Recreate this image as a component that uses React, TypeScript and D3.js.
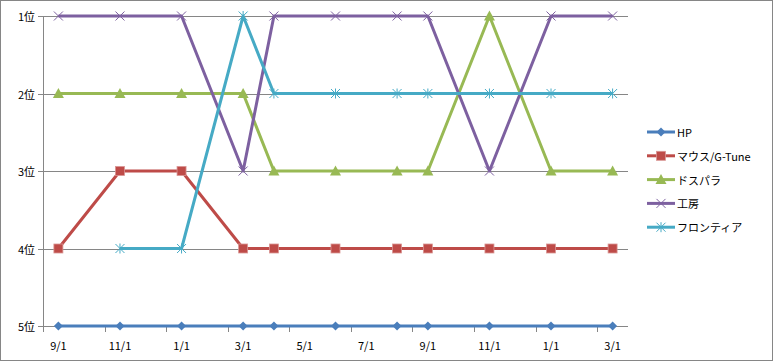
import React from "react";
import * as d3 from "d3";

const months = [
  "2008-09","2008-10","2008-11","2008-12","2009-01","2009-02","2009-03","2009-04","2009-05","2009-06",
  "2009-07","2009-08","2009-09","2009-10","2009-11","2009-12","2010-01","2010-02","2010-03",
];
const tickLabelMonths = ["2008-09","2008-11","2009-01","2009-03","2009-05","2009-07","2009-09","2009-11","2010-01","2010-03"];
const dates = ["2008-09","2008-11","2009-01","2009-03","2009-04","2009-06","2009-08","2009-09","2009-11","2010-01","2010-03"];
const rankTicks = [1, 2, 3, 4, 5];

const hp = [5, 5, 5, 5, 5, 5, 5, 5, 5, 5, 5];
const mouse = [4, 3, 3, 4, 4, 4, 4, 4, 4, 4, 4];
const dospara = [2, 2, 2, 2, 3, 3, 3, 3, 1, 3, 3];
const kobo = [1, 1, 1, 3, 1, 1, 1, 1, 3, 1, 1];
const frontier = [null, 4, 4, 1, 2, 2, 2, 2, 2, 2, 2];

const seriesNames = ["HP", "マウス/G-Tune", "ドスパラ", "工房", "フロンティア"];
const seriesValues = [hp, mouse, dospara, kobo, frontier];
const colors = ["#4A7EBB", "#BE4B48", "#98B954", "#7D60A0", "#46AAC5"];
const markers = ["diamond", "square", "triangle", "x", "star"];

const W = 774, H = 362;
const FONT = "'Noto Sans CJK JP', sans-serif";

function Marker({ type, x, y, color }: { type: string; x: number; y: number; color: string }) {
  if (type === "diamond") {
    const s = 4.5;
    return <path d={`M${x},${y - s}L${x + s},${y}L${x},${y + s}L${x - s},${y}Z`} fill={color} />;
  }
  if (type === "square") {
    const s = 4.5;
    return <rect x={x - s} y={y - s} width={s * 2} height={s * 2} fill={color} stroke="#D99694" strokeWidth={0.8} />;
  }
  if (type === "triangle") {
    const s = 5.5;
    return <path d={`M${x},${y - s}L${x + s},${y + s * 0.8}L${x - s},${y + s * 0.8}Z`} fill={color} />;
  }
  if (type === "x") {
    const s = 4.5;
    return (
      <path d={`M${x - s},${y - s}L${x + s},${y + s}M${x - s},${y + s}L${x + s},${y - s}`} stroke={color} strokeWidth={1} fill="none" />
    );
  }
  const s = 4.5;
  return (
    <path
      d={`M${x - s},${y - s}L${x + s},${y + s}M${x - s},${y + s}L${x + s},${y - s}M${x},${y - s - 0.5}L${x},${y + s + 0.5}`}
      stroke={color}
      strokeWidth={1}
      fill="none"
    />
  );
}

export default function App() {
  const x = d3.scaleBand<string>().domain(months).range([43, 628]).paddingInner(0).paddingOuter(0);
  const bw = x.bandwidth();
  const cx = (m: string) => (x(m) as number) + bw / 2;
  const y = d3.scaleLinear().domain([1, 5]).range([16, 326]);

  const line = d3
    .line<[string, number | null]>()
    .defined((d) => d[1] != null)
    .x((d) => cx(d[0]))
    .y((d) => y(d[1] as number));

  const tickPositions = months.filter((_, i) => i % 2 === 0).map((m) => x(m) as number);

  return (
    <svg width={W} height={H} style={{ position: "absolute", left: 0, top: 0, fontFamily: FONT }}>
      <rect x={0.5} y={0.5} width={W - 2} height={H - 2} fill="#fff" stroke="#868686" strokeWidth={1} />
      {rankTicks.slice(0, 4).map((r) => (
        <line key={r} x1={43} x2={628} y1={Math.round(y(r)) + 0.5} y2={Math.round(y(r)) + 0.5} stroke="#868686" strokeWidth={1} />
      ))}
      <line x1={43.5} x2={43.5} y1={16} y2={326} stroke="#868686" />
      <line x1={43} x2={628} y1={326.5} y2={326.5} stroke="#868686" />
      {rankTicks.map((r) => (
        <g key={r}>
          <line x1={38} x2={43} y1={Math.round(y(r)) + 0.5} y2={Math.round(y(r)) + 0.5} stroke="#868686" />
          <text x={35} y={y(r)} textAnchor="end" dominantBaseline="central" fontSize={11} fill="#000">
            {r}位
          </text>
        </g>
      ))}
      {tickPositions.map((p, i) => (
        <line key={i} x1={Math.round(p) + 0.5} x2={Math.round(p) + 0.5} y1={326} y2={332} stroke="#868686" />
      ))}
      {tickLabelMonths.map((m) => (
        <text key={m} x={cx(m)} y={345} textAnchor="middle" dominantBaseline="central" fontSize={11} fill="#000">
          {`${+m.slice(5)}/1`}
        </text>
      ))}
      {seriesValues.map((vals, si) => {
        const pts = dates.map((d, i) => [d, vals[i]] as [string, number | null]);
        return (
          <g key={si}>
            <path d={line(pts) || ""} fill="none" stroke={colors[si]} strokeWidth={3} strokeLinejoin="round" />
            {pts
              .filter((p) => p[1] != null)
              .map((p, i) => (
                <Marker key={i} type={markers[si]} x={cx(p[0])} y={y(p[1] as number)} color={colors[si]} />
              ))}
          </g>
        );
      })}
      {seriesNames.map((n, si) => {
        const ly = 132 + si * 23.8;
        return (
          <g key={n}>
            <line x1={647} x2={675} y1={ly} y2={ly} stroke={colors[si]} strokeWidth={3} />
            <Marker type={markers[si]} x={661} y={ly} color={colors[si]} />
            <text x={677} y={ly} dominantBaseline="central" fontSize={11} fill="#000">
              {n}
            </text>
          </g>
        );
      })}
    </svg>
  );
}
